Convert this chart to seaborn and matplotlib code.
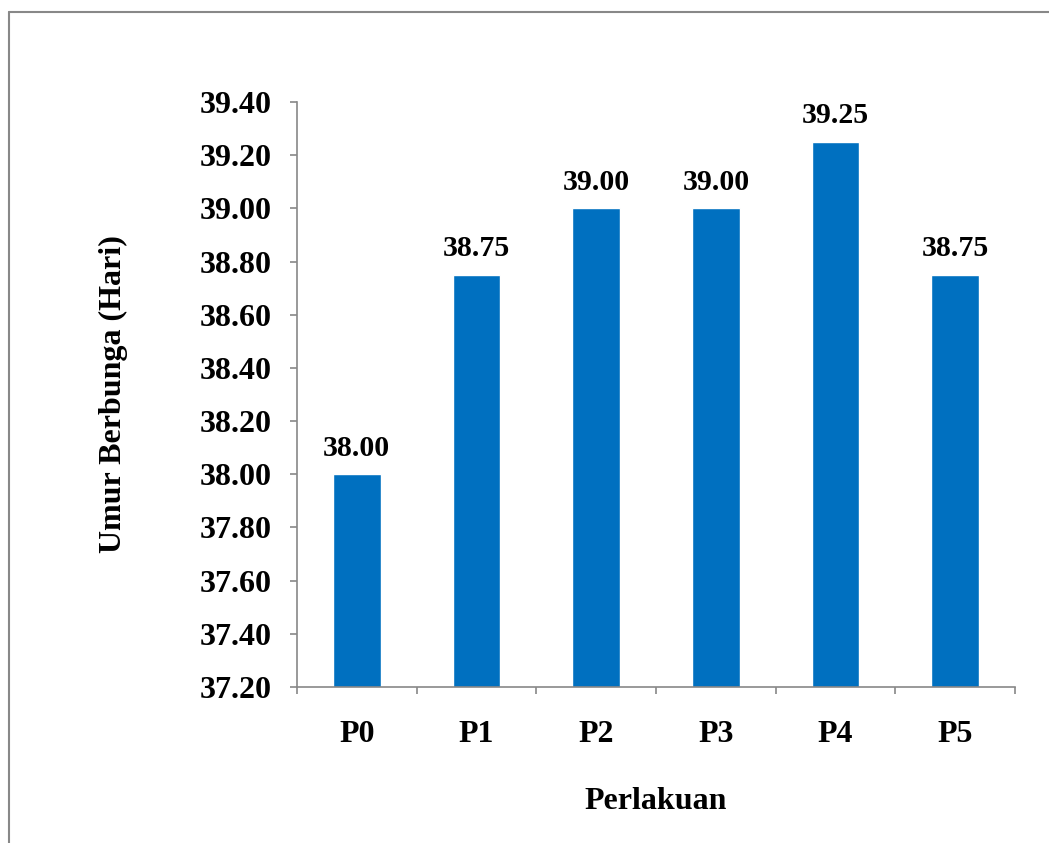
import seaborn as sns
import pandas as pd
import matplotlib.pyplot as plt
import numpy as np
from matplotlib.lines import Line2D

# Data
perlakuan = ['P0', 'P1', 'P2', 'P3', 'P4', 'P5']
umur_berbunga = [38.00, 38.75, 39.00, 39.00, 39.25, 38.75]
y_ticks = [37.20, 37.40, 37.60, 37.80, 38.00, 38.20, 38.40, 38.60, 38.80, 39.00, 39.20, 39.40]

df = pd.DataFrame({'Perlakuan': perlakuan, 'Umur': umur_berbunga})

sns.set_style('white')
plt.rcParams['font.family'] = ['Liberation Serif', 'DejaVu Serif']
plt.rcParams['font.weight'] = 'bold'
plt.rcParams['text.color'] = 'black'
plt.rcParams['axes.labelcolor'] = 'black'
plt.rcParams['xtick.color'] = 'black'
plt.rcParams['ytick.color'] = 'black'

fig = plt.figure(figsize=(10.49, 8.43), dpi=100)
ax = fig.add_axes([0.2831, 0.185, 0.6845, 0.694])

sns.barplot(data=df, x='Perlakuan', y='Umur', color='#0070C0', saturation=1,
            width=0.4, ax=ax)

ax.set_ylim(y_ticks[0], y_ticks[-1])
ax.set_xlim(-0.5, len(perlakuan) - 0.5)
ax.set_yticks(y_ticks)
ax.set_yticklabels([f'{v:.2f}' for v in y_ticks], fontsize=23, fontweight='bold')

# category labels at centres, tick marks at boundaries
ax.set_xticks(range(len(perlakuan)))
ax.set_xticklabels(perlakuan, fontsize=23, fontweight='bold')
ax.set_xticks(np.arange(-0.5, len(perlakuan), 1), minor=True)
ax.tick_params(axis='x', which='major', bottom=True, length=0, pad=24)
ax.tick_params(axis='x', which='minor', bottom=True, length=5, width=1.2, color='#888888', direction='out')
ax.tick_params(axis='y', left=True, length=5, width=1.2, color='#888888', labelcolor='black',
               direction='out', pad=13)

for s in ['top', 'right']:
    ax.spines[s].set_visible(False)
for s in ['left', 'bottom']:
    ax.spines[s].set_color('#888888')
    ax.spines[s].set_linewidth(1.2)

# value labels
for i, v in enumerate(umur_berbunga):
    ax.annotate(f'{v:.2f}', (i, v), xytext=(0, 9), textcoords='offset points',
                ha='center', va='bottom', fontsize=21.5, fontweight='bold', color='black')

ax.set_xlabel('Perlakuan', fontsize=23, fontweight='bold', labelpad=27)
ax.set_ylabel('Umur Berbunga (Hari)', fontsize=23, fontweight='bold', labelpad=52)

# outer frame (only left and top visible in the crop)
fig.add_artist(Line2D([0.0086, 0.0086], [0, 0.986], transform=fig.transFigure, color='#888888', lw=1.5))
fig.add_artist(Line2D([0.0086, 1], [0.986, 0.986], transform=fig.transFigure, color='#888888', lw=1.5))

fig.savefig('out.png', dpi=100)
